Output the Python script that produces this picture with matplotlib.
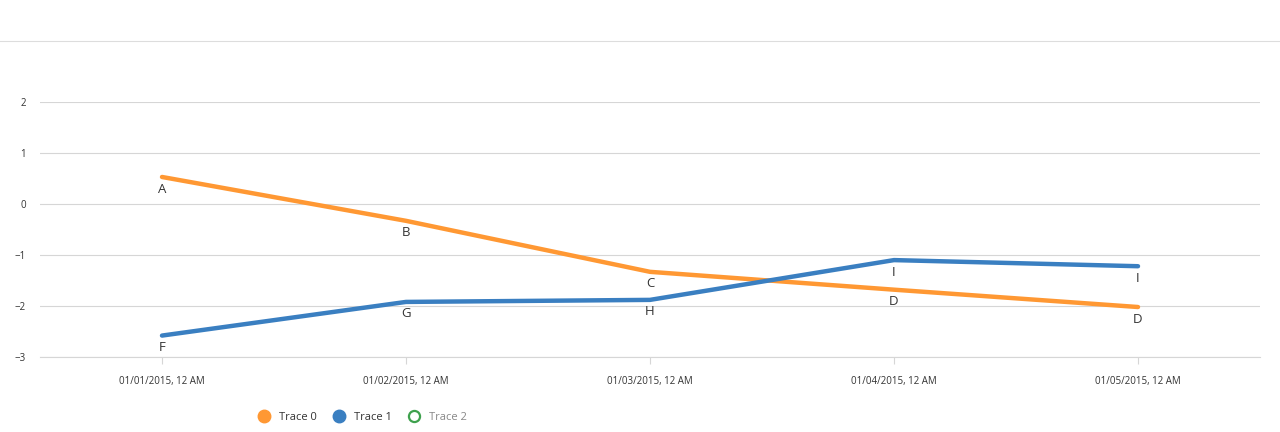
import matplotlib
matplotlib.use("Agg")
import matplotlib.pyplot as plt
import pandas as pd
from matplotlib.lines import Line2D

plt.rcParams['font.family'] = ['Open Sans', 'DejaVu Sans']

# -- data ---------------------------------------------------------------
dates = pd.to_datetime(["2015-01-01", "2015-01-02", "2015-01-03",
                        "2015-01-04", "2015-01-05"])
trace0 = [0.53, -0.33, -1.33, -1.68, -2.02]
trace0_text = ["A", "B", "C", "D", "D"]
trace1 = [-2.58, -1.92, -1.88, -1.10, -1.22]
trace1_text = ["F", "G", "H", "I", "I"]
tick_labels = [d.strftime("%m/%d/%Y, 12 AM") for d in dates]

ORANGE = "#ff9833"
BLUE = "#3a7fc1"
GREEN = "#3ea14d"
GRID = "#d6d6d6"

fig = plt.figure(figsize=(12.8, 4.32), dpi=100)
ax = fig.add_axes([40 / 1280, 1 - 357 / 432, 1220 / 1280, 255 / 432])

ax.plot(dates, trace0, color=ORANGE, lw=3.2, solid_capstyle="round")
ax.plot(dates, trace1, color=BLUE, lw=3.2, solid_capstyle="round")

for x, y, t in zip(dates, trace0, trace0_text):
    ax.annotate(t, (x, y), xytext=(0, -4), textcoords="offset points",
                ha="center", va="top", fontsize=9.5, color="#333333")
for x, y, t in zip(dates, trace1, trace1_text):
    ax.annotate(t, (x, y), xytext=(0, -4), textcoords="offset points",
                ha="center", va="top", fontsize=9.5, color="#333333")

half = pd.Timedelta(hours=12)
ax.set_xlim(dates[0] - half, dates[-1] + half)
ax.set_ylim(-3, 2)
ax.set_yticks([-3, -2, -1, 0, 1, 2])
ax.set_yticklabels(["\u22123", "\u22122", "\u22121", "0", "1", "2"])
ax.set_xticks(dates)
ax.set_xticklabels(tick_labels)

ax.grid(axis="y", color=GRID, lw=0.8)
ax.set_axisbelow(True)
for s in ["top", "right", "left"]:
    ax.spines[s].set_visible(False)
ax.spines["bottom"].set_color(GRID)
ax.spines["bottom"].set_linewidth(0.8)
ax.tick_params(axis="y", length=0, pad=10, labelsize=7, labelcolor="#333333")
ax.tick_params(axis="x", length=5, color=GRID, pad=9, labelsize=7,
               labelcolor="#333333")

# thin header separator
fig.add_artist(Line2D([0, 1], [1 - 41 / 432] * 2, color="#dddddd", lw=0.8))

handles = [
    Line2D([], [], ls="none", marker="o", ms=9, mfc=ORANGE, mec=ORANGE),
    Line2D([], [], ls="none", marker="o", ms=9, mfc=BLUE, mec=BLUE),
    Line2D([], [], ls="none", marker="o", ms=8, mfc="white", mec=GREEN, mew=1.6),
]
leg = fig.legend(handles, ["Trace 0", "Trace 1", "Trace 2"], loc="center",
                 bbox_to_anchor=(362 / 1280, 1 - 417 / 432), ncol=3,
                 frameon=False, fontsize=8, handletextpad=0.75,
                 columnspacing=1.4, handlelength=1.2)
for txt, c in zip(leg.get_texts(), ["#333333", "#333333", "#888888"]):
    txt.set_color(c)

fig.savefig("out.png", dpi=100)
